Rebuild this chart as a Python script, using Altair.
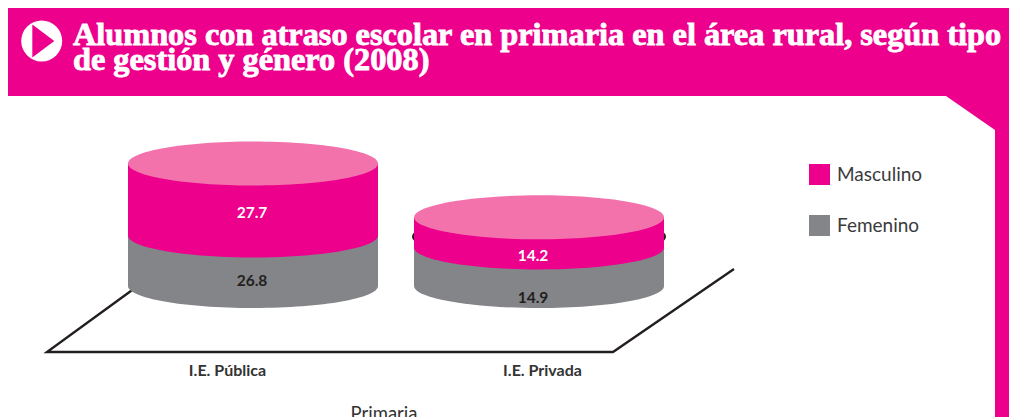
import altair as alt
import pandas as pd

# --- chart values ---
categorias = ["I.E. Pública", "I.E. Privada"]
generos = ["Masculino", "Femenino"]
etiquetas_masculino = ["27.7", "14.2"]
etiquetas_femenino = ["26.8", "14.9"]
altura_femenino = [22.0, 16.8]
altura_masculino = [31.3, 13.1]
titulo_1 = "Alumnos con atraso escolar en primaria en el área rural, según tipo"
titulo_2 = "de gestión y género (2008)"
eje = "Primaria"

PINK, LIGHT, GRAY, DARK = "#ec008c", "#f372ab", "#848589", "#231f20"

rows = []
for c, f, m in zip(categorias, altura_femenino, altura_masculino):
    rows.append(dict(cat=c, g="Femenino", y0=0.0, y1=f))
    rows.append(dict(cat=c, g="Masculino", y0=f, y1=f + m))
seg = pd.DataFrame(rows)
tops = seg[seg.g == "Masculino"]
xs = alt.Scale(type="band", domain=categorias, range=[120, 656], paddingInner=0.1259, paddingOuter=0, round=False)
ys = alt.Scale(domain=[-57, 121], range=[409, 0])
X = alt.X("cat:N", scale=xs, axis=None)

# page-coordinate scales for the furniture of the page
px = alt.Scale(domain=[8, 1009], range=[0, 1001])
py = alt.Scale(domain=[8, 417], range=[0, 409])
PX = alt.X("x:Q", scale=px, axis=None)
PY = alt.Y("y:Q", scale=py, axis=None)

ELL = ("M-1,0C-1,-.0972,-.5523,-.176,0,-.176C.5523,-.176,1,-.0972,1,0"
       "C1,.0972,.5523,.176,0,.176C-.5523,.176,-1,.0972,-1,0Z")

def ellipse(df, field, color, w=250):
    return alt.Chart(df).mark_point(shape=ELL, filled=True, fill=color, opacity=1, strokeWidth=0).encode(
        x=X, y=alt.Y(f"{field}:Q", scale=ys, axis=None), size=alt.value(w * w))

def text(rows, color, size, weight="normal", font="Lato", align="center", **kw):
    return alt.Chart(pd.DataFrame(rows)).mark_text(
        color=color, fontSize=size, fontWeight=weight, font=font, align=align, baseline="alphabetic", **kw
    ).encode(x=PX, y=PY, text="t:N")

def symbol(x, y, shape, color, side):
    return alt.Chart(pd.DataFrame(dict(x=[x], y=[y]))).mark_point(
        shape=shape, filled=True, fill=color, opacity=1, strokeWidth=0
    ).encode(x=PX, y=PY, size=alt.value(side * side))

frame = alt.Chart(pd.DataFrame(dict(
    x=[8, 995], x2=[1009, 1009], y=[8, 96], y2=[96, 417]
))).mark_rect(color=PINK, opacity=1).encode(
    x=PX, x2="x2:Q", y=PY, y2="y2:Q")
corner = symbol(995, 96, "M-1,0L0,0L0,.694Z", PINK, 98)
circle = symbol(41.7, 41, "circle", "white", 41)
arrow = symbol(43.3, 41, "M-.667,-1L.667,0L-.667,1Z", PINK, 33)

floor = alt.Chart(pd.DataFrame(dict(
    i=[0, 1, 2, 3], x=[135, 47, 613, 734], y=[288, 352, 352, 269]
))).mark_line(color=DARK, strokeWidth=2.4, strokeJoin="miter").encode(x=PX, y=PY, order="i:Q")

ring = ellipse(pd.DataFrame(dict(cat=[categorias[1]], y=[21.5])), "y", DARK, 254)
base = ellipse(seg[seg.g == "Femenino"], "y0", GRAY)
joint = ellipse(tops, "y0", PINK)
top = ellipse(tops, "y1", LIGHT)

bars = alt.Chart(seg).mark_rect(opacity=1).encode(
    x=X,
    y=alt.Y("y0:Q", scale=ys, axis=None),
    y2="y1:Q",
    color=alt.Color("g:N", scale=alt.Scale(domain=generos, range=[PINK, GRAY]),
                    legend=alt.Legend(orient="none", legendX=801, legendY=156, title=None, padding=0,
                                      symbolType="square", symbolSize=441, symbolStrokeWidth=0,
                                      symbolOpacity=1, labelFont="Lato", labelFontSize=19,
                                      labelColor="#3a3a3c", labelOffset=7, rowPadding=30)),
)
bars_f = bars.transform_filter(alt.datum.g == "Femenino")
bars_m = bars.transform_filter(alt.datum.g == "Masculino")

t1 = alt.Chart(pd.DataFrame(dict(x=[73], y=[45]))).mark_text(
    text=[titulo_1, titulo_2], lineHeight=25, color="white", fontSize=32.3, fontWeight="bold",
    font="Liberation Serif", align="left", baseline="alphabetic", stroke="white", strokeWidth=0.9
).encode(x=PX, y=PY)
v_w = text([dict(x=252, y=218, t=etiquetas_masculino[0]), dict(x=533, y=261, t=etiquetas_masculino[1])],
           "white", 15.5, "bold")
v_d = text([dict(x=252, y=286, t=etiquetas_femenino[0]), dict(x=533, y=303, t=etiquetas_femenino[1])],
           DARK, 15.5, "bold")
cats = text([dict(x=227.5, y=376, t=categorias[0]), dict(x=542.5, y=376, t=categorias[1])],
            "#333333", 16, "bold")
ax = text([dict(x=384, y=420, t=eje)], "#333333", 18.5)

chart = alt.layer(
    frame, corner, circle, arrow, t1, floor, ring, base, bars_f, joint, bars_m, top, v_w, v_d, cats, ax
).resolve_scale(x="independent", y="independent").properties(
    width=1001, height=409, padding=0, autosize=alt.AutoSizeParams(type="none")
).configure_view(stroke=None)

chart.save("out.html", embed_options={"renderer": "svg", "actions": False})
